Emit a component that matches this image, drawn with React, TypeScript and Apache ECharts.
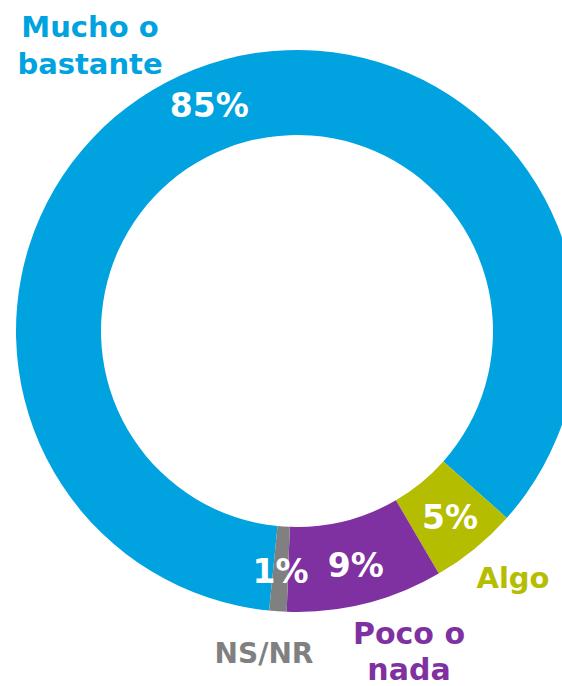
import React, { useEffect, useRef } from "react";
import * as echarts from "echarts";

const categories = ["Mucho o bastante", "Algo", "Poco o nada", "NS/NR"];
const values = [85, 5, 9, 1];
const colors = ["#00A3E0", "#B5BD00", "#7F30A1", "#808080"];
const FONT = "'DejaVu Sans', sans-serif";

export default function App() {
  const ref = useRef<HTMLDivElement>(null);
  useEffect(() => {
    if (!ref.current) return;
    const chart = echarts.init(ref.current, undefined, { renderer: "svg" });
    const labelPos = [
      { x: 90, y: 45, lh: 37, fs: 29 },
      { x: 513, y: 578, lh: 37, fs: 29 },
      { x: 409, y: 651, lh: 36, fs: 30 },
      { x: 264, y: 653, lh: 37, fs: 28 },
    ];
    chart.setOption({
      animation: false,
      backgroundColor: "#ffffff",
      series: [
        {
          type: "pie",
          center: [297, 331],
          radius: [196, 281],
          startAngle: -95.7,
          clockwise: true,
          avoidLabelOverlap: false,
          silent: true,
          label: {
            show: true,
            position: "inside",
            formatter: "{c}%",
            color: "#ffffff",
            fontFamily: FONT,
            fontWeight: "bold",
            fontSize: 33,
          },
          labelLine: { show: false },
          data: categories.map((name, i) => ({
            name,
            value: values[i],
            itemStyle: { color: colors[i] },
          })),
        },
      ],
      graphic: categories.map((name, i) => ({
        type: "text",
        x: labelPos[i].x,
        y: labelPos[i].y,
        style: {
          text: name.replace(" o ", " o\n"),
          fill: colors[i],
          fontFamily: FONT,
          fontWeight: "bold",
          fontSize: labelPos[i].fs,
          lineHeight: labelPos[i].lh,
          align: "center",
          verticalAlign: "middle",
        },
      })),
    });
    return () => chart.dispose();
  }, []);
  return (
    <div
      ref={ref}
      style={{ position: "fixed", left: 0, top: 0, width: 562, height: 686 }}
    />
  );
}
